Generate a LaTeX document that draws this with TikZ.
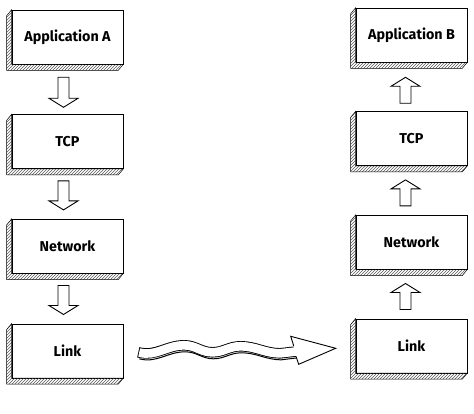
\documentclass[tikz,border=0pt]{standalone}
\usepackage{fontspec}
\setmainfont{Fira Sans}
\usetikzlibrary{calc, positioning, patterns}
\tikzset{
    layer/.style={draw, fill=white, line width=0.6pt, minimum width=111pt, minimum height=54pt, font=\bfseries\fontsize{14.3}{16}\selectfont},
    slab/.style={draw, line width=0.5pt, pattern=north east lines, pattern color=black!65},
    pipe/.style={draw, fill=white, line width=0.9pt, line join=miter}
}
% hollow block arrow from tail point to tip point (vertical)
\newcommand{\pipearrow}[2]{%
    \draw[pipe] let \p1=(#1), \p2=(#2), \n1={sign(\y1-\y2)} in
        (\x1-5.5pt,\y1) -- (\x1-5.5pt,\y2+\n1*9pt) -- (\x1-14.5pt,\y2+\n1*9pt) -- (\x2,\y2)
        -- (\x1+14.5pt,\y2+\n1*9pt) -- (\x1+5.5pt,\y2+\n1*9pt) -- (\x1+5.5pt,\y1) -- cycle;}

\begin{document}
\begin{tikzpicture}[x=1pt, y=-1pt]
    \useasboundingbox (0,0) rectangle (474,414);

    % Pila emisora
    \node[layer] (appA) at (67.5,37) {Application A};
    \node[layer, below=50pt of appA] (tcpA) {TCP};
    \node[layer, below=50pt of tcpA] (netA) {Network};
    \node[layer, below=50pt of netA] (linkA) {Link};

    % Pila receptora
    \node[layer] (appB) at (411.5,35) {Application B};
    \node[layer, below=49pt of appB] (tcpB) {TCP};
    \node[layer, below=49pt of tcpB] (netB) {Network};
    \node[layer, below=49pt of netB] (linkB) {Link};

    % Cantos sombreados
    \foreach \n in {appA, tcpA, netA, linkA, appB, tcpB, netB, linkB}
        \draw[slab] (\n.north west) -- ++(-5,6) -- ($(\n.south west)+(-5,6)$)
            -- ($(\n.south east)+(-5,6)$) -- (\n.south east) -- (\n.south west) -- cycle;

    % Bajada
    \pipearrow{$(appA.south)+(-4,13)$}{$(tcpA.north)+(-4,-7)$}
    \pipearrow{$(tcpA.south)+(-4,12)$}{$(netA.north)+(-4,-9)$}
    \pipearrow{$(netA.south)+(-4,12)$}{$(linkA.north)+(-4,-9)$}

    % Subida
    \pipearrow{$(linkB.north)+(-6,-9)$}{$(netB.south)+(-6,14)$}
    \pipearrow{$(netB.north)+(-6,-9)$}{$(tcpB.south)+(-6,14)$}
    \pipearrow{$(tcpB.north)+(-6,-8)$}{$(appB.south)+(-6,15)$}

    % Enlace ondulado
    \coordinate (ws) at ($(linkA.east)+(15,1.5)$);
    \coordinate (wt) at ($(linkB.west)+(-20,2.5)$);
    \draw[line width=1pt] ($(ws)+(1,6.5)$) to[out=-15,in=180] ++(46,-7) to[out=0,in=180] ++(28,7)
        to[out=0,in=180] ++(28,-6) to[out=0,in=180] ++(40,7) -- ($(wt)+(-38,9.5)$);
    \draw[line width=10.5pt] (ws) to[out=-15,in=180] ++(46,-7) to[out=0,in=180] ++(28,7)
        to[out=0,in=180] ++(28,-6) to[out=0,in=180] ++(40,7) -- ($(wt)+(-38,3)$);
    \draw[white, line width=8.7pt, shorten <=0.9pt] (ws) to[out=-15,in=180] ++(46,-7) to[out=0,in=180] ++(28,7)
        to[out=0,in=180] ++(28,-6) to[out=0,in=180] ++(40,7) -- ($(wt)+(-38,3)$);
    \fill[white] ($(wt)+(-45,-12)$) -- (wt) -- ($(wt)+(-37,16)$) -- cycle;
    \draw[line width=0.9pt, line join=miter] ($(wt)+(-42,-2.5)$) -- ($(wt)+(-45,-12)$) -- (wt)
        -- ($(wt)+(-37,16)$) -- ($(wt)+(-39.5,8.5)$);
\end{tikzpicture}
\end{document}
